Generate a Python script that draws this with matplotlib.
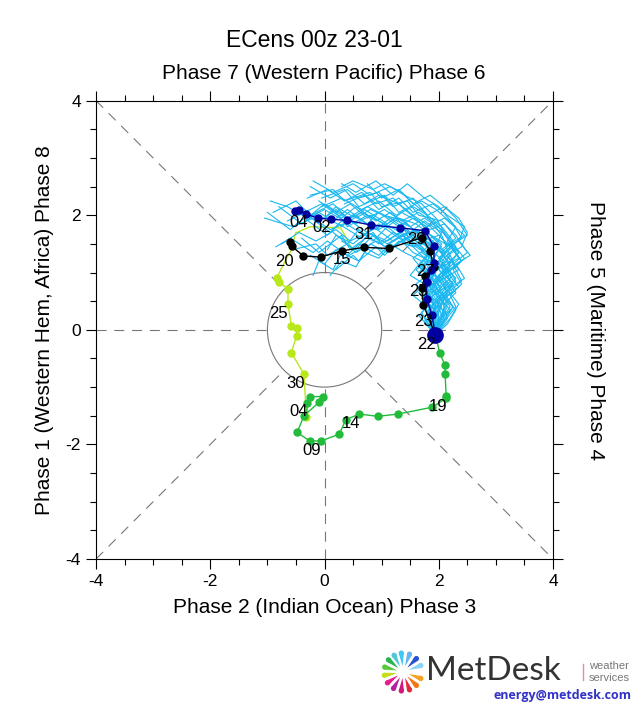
import matplotlib
matplotlib.use('Agg')
import matplotlib.pyplot as plt
from matplotlib.ticker import MultipleLocator
from matplotlib.patches import Circle, Polygon
import numpy as np

plt.rcParams['font.family'] = ['Liberation Sans', 'DejaVu Sans']
plt.rcParams['axes.unicode_minus'] = False

# ---- data ----
start = (1.94, -0.09)   # 22-01, large dot

# observed December (yellow-green)
dec_x = [0.49, 0.40, 0.28, -0.25, -0.51, -0.57, -0.70, -0.84, -0.80, -0.64, -0.64, -0.58, -0.48, -0.49, -0.58, -0.36, -0.316]
dec_y = [1.38, 1.57, 1.78, 1.80, 1.69, 1.42, 1.18, 0.90, 0.84, 0.71, 0.45, 0.07, 0.03, -0.105, -0.40, -0.775, -1.525]
dec_dot = [7, 8, 9, 10, 11, 12, 13, 14, 15, 16]

# observed January (green)
jan_x = [-0.316, -0.30, -0.26, -0.03, -0.09, -0.36, -0.48, -0.26, -0.06, 0.26, 0.37, 0.61, 0.93, 1.29, 1.89, 2.13, 2.13, 2.11, 2.11, 2.02, 1.94]
jan_y = [-1.525, -1.28, -1.165, -1.165, -1.26, -1.50, -1.79, -1.94, -1.94, -1.82, -1.57, -1.47, -1.51, -1.47, -1.35, -1.19, -1.15, -0.77, -0.62, -0.41, -0.09]

# second mean track (black)
blk_x = [1.94, 1.73, 1.70, 1.76, 1.91, 1.85, 1.71, 1.12, 0.69, 0.31, -0.07, -0.37, -0.57, -0.60]
blk_y = [-0.09, 0.44, 0.73, 0.94, 1.10, 1.37, 1.61, 1.42, 1.44, 1.38, 1.27, 1.29, 1.455, 1.54]

# ensemble mean forecast (dark blue)
mean_x = [1.94, 1.88, 1.79, 1.79, 1.86, 1.92, 1.91, 1.76, 1.33, 0.81, 0.40, 0.105, -0.12, -0.32, -0.45, -0.52]
mean_y = [-0.09, 0.26, 0.54, 0.84, 1.05, 1.165, 1.455, 1.73, 1.78, 1.83, 1.91, 1.93, 1.95, 2.02, 2.10, 2.07]

# ensemble members (days 1-15)
ens_x = [
    [2.15, 2.05, 2.30, 2.10, 2.40, 2.20, 2.45, 2.10, 1.80, 1.35, 1.10, 0.70, 0.45, 0.00, -0.30],
    [1.70, 1.85, 1.60, 1.80, 1.55, 1.75, 1.45, 1.20, 0.85, 0.65, 0.25, 0.05, -0.35, -0.60, -1.00],
    [2.00, 2.20, 1.95, 2.25, 2.05, 2.35, 2.15, 2.30, 1.95, 1.70, 1.30, 1.05, 0.60, 0.35, -0.05],
    [1.85, 1.70, 1.95, 1.75, 2.00, 1.70, 1.90, 1.55, 1.40, 1.00, 0.85, 0.45, 0.30, -0.10, -0.40],
    [2.05, 2.25, 2.10, 2.40, 2.25, 2.50, 2.30, 2.05, 1.65, 1.45, 1.00, 0.80, 0.35, 0.15, -0.25],
    [1.90, 2.05, 1.80, 2.00, 1.85, 2.10, 1.90, 1.60, 1.30, 0.95, 0.70, 0.30, 0.10, -0.30, -0.55],
    [1.75, 1.95, 1.70, 1.90, 1.65, 1.85, 1.55, 1.35, 1.10, 0.80, 0.60, 0.30, 0.15, -0.10, -0.20],
    [2.10, 2.00, 2.25, 2.05, 2.30, 2.15, 2.40, 2.25, 2.00, 1.75, 1.45, 1.20, 0.90, 0.55, 0.30],
    [1.95, 1.80, 2.05, 1.85, 2.10, 1.90, 1.75, 1.50, 1.15, 0.90, 0.50, 0.30, -0.10, -0.40, -0.80],
    [2.20, 2.35, 2.15, 2.45, 2.30, 2.55, 2.35, 2.45, 2.15, 1.90, 1.55, 1.30, 0.95, 0.70, 0.35],
    [1.80, 1.90, 1.75, 1.95, 1.70, 1.90, 1.60, 1.40, 1.15, 0.90, 0.55, 0.40, 0.05, -0.15, -0.55],
    [2.00, 2.10, 1.90, 2.20, 2.00, 2.25, 2.05, 1.75, 1.50, 1.15, 0.90, 0.55, 0.30, -0.05, -0.35],
    [1.85, 2.00, 1.85, 2.05, 1.90, 2.15, 1.95, 2.05, 1.75, 1.50, 1.25, 0.95, 0.75, 0.40, 0.20],
    [2.05, 2.20, 2.05, 2.30, 2.10, 2.35, 2.10, 1.85, 1.55, 1.30, 0.95, 0.70, 0.40, 0.10, -0.25],
    [1.75, 1.85, 1.65, 1.85, 1.60, 1.80, 1.55, 1.30, 1.05, 0.85, 0.60, 0.35, 0.20, 0.00, -0.25],
    [2.10, 2.30, 2.20, 2.40, 2.25, 2.45, 2.25, 2.50, 2.30, 2.10, 1.80, 1.55, 1.20, 0.95, 0.60],
    [1.90, 2.00, 1.80, 1.95, 1.75, 1.90, 1.65, 1.40, 1.05, 0.75, 0.40, 0.15, -0.25, -0.50, -0.90],
    [1.95, 2.10, 1.95, 2.15, 2.00, 2.20, 2.05, 1.85, 1.60, 1.40, 1.10, 0.85, 0.60, 0.40, 0.15],
    [2.05, 1.95, 2.20, 2.00, 2.25, 2.05, 2.30, 2.10, 1.85, 1.55, 1.30, 0.95, 0.75, 0.40, 0.15],
    [1.80, 1.95, 1.75, 1.90, 1.70, 1.85, 1.60, 1.35, 1.15, 0.80, 0.55, 0.20, 0.00, -0.35, -0.65],
    [2.00, 2.15, 1.95, 2.20, 2.00, 2.20, 2.00, 1.80, 1.55, 1.30, 1.05, 0.90, 0.60, 0.50, 0.20],
    [1.95, 2.05, 2.15, 2.00, 2.20, 2.05, 2.25, 2.05, 1.80, 1.55, 1.25, 0.95, 0.65, 0.30, -0.05],
    [1.85, 1.75, 1.95, 1.80, 2.00, 1.80, 1.60, 1.35, 1.10, 0.75, 0.45, 0.20, -0.15, -0.45, -0.75],
    [2.10, 2.25, 2.10, 2.30, 2.15, 2.35, 2.15, 1.95, 1.65, 1.35, 1.05, 0.75, 0.45, 0.20, -0.10],
    [1.90, 2.00, 1.85, 2.00, 1.80, 1.95, 1.75, 1.55, 1.35, 1.10, 0.95, 0.70, 0.55, 0.30, 0.10],
    [2.00, 2.15, 2.00, 2.25, 2.05, 2.30, 2.10, 1.95, 1.70, 1.40, 1.15, 0.80, 0.50, 0.15, -0.20],
    [1.95, 1.85, 2.05, 1.90, 2.10, 1.90, 2.05, 1.80, 1.60, 1.30, 1.10, 0.80, 0.55, 0.20, 0.00],
    [2.05, 2.10, 2.30, 2.10, 2.35, 2.15, 2.40, 2.50, 2.35, 2.10, 1.85, 1.55, 1.30, 1.00, 0.75],
    [1.85, 1.95, 1.80, 1.90, 1.75, 1.85, 1.60, 1.35, 1.05, 0.75, 0.45, 0.10, -0.20, -0.55, -1.05],
    [1.95, 2.05, 1.95, 2.10, 2.00, 2.15, 2.05, 1.90, 1.75, 1.50, 1.35, 1.05, 0.85, 0.50, 0.30],
    [1.65, 1.80, 1.55, 1.75, 1.50, 1.70, 1.40, 1.15, 0.95, 0.60, 0.40, 0.05, -0.20, -0.60, -0.85],
    [2.15, 2.30, 2.10, 2.35, 2.15, 2.40, 2.20, 2.00, 1.70, 1.40, 1.10, 0.75, 0.50, 0.20, 0.05],
    [1.90, 2.05, 1.85, 2.05, 1.85, 2.05, 1.85, 1.65, 1.40, 1.20, 0.90, 0.65, 0.35, 0.05, -0.30],
    [2.00, 1.90, 2.10, 1.95, 2.15, 2.00, 2.20, 1.95, 1.70, 1.45, 1.20, 0.95, 0.75, 0.55, 0.30],
    [1.80, 1.90, 1.70, 1.85, 1.65, 1.80, 1.50, 1.25, 0.95, 0.65, 0.35, 0.00, -0.30, -0.65, -0.95],
]
ens_y = [
    [0.20, 0.55, 0.70, 1.00, 1.20, 1.50, 1.65, 1.95, 1.80, 2.05, 1.85, 2.10, 1.90, 2.20, 1.95],
    [0.30, 0.50, 0.80, 0.95, 1.25, 1.40, 1.70, 1.55, 1.80, 1.60, 1.85, 1.65, 1.95, 1.75, 2.05],
    [0.15, 0.35, 0.65, 0.80, 1.10, 1.25, 1.55, 1.80, 2.10, 2.25, 2.05, 2.35, 2.15, 2.45, 2.30],
    [0.35, 0.55, 0.70, 1.00, 1.15, 1.35, 1.55, 1.45, 1.75, 1.50, 1.70, 1.40, 1.65, 1.35, 1.60],
    [0.10, 0.40, 0.60, 0.85, 1.15, 1.35, 1.65, 1.90, 2.00, 2.25, 2.15, 2.40, 2.25, 2.45, 2.35],
    [0.20, 0.45, 0.60, 0.90, 1.05, 1.30, 1.55, 1.75, 1.60, 1.85, 1.65, 1.90, 1.70, 2.00, 1.80],
    [0.15, 0.35, 0.55, 0.75, 1.00, 1.20, 1.35, 1.55, 1.35, 1.50, 1.20, 1.35, 1.05, 1.20, 0.95],
    [0.25, 0.50, 0.65, 0.95, 1.10, 1.40, 1.60, 1.85, 2.15, 2.30, 2.55, 2.35, 2.60, 2.40, 2.55],
    [0.30, 0.50, 0.75, 0.90, 1.20, 1.35, 1.60, 1.80, 1.95, 1.75, 2.00, 1.80, 2.05, 1.85, 2.15],
    [0.20, 0.45, 0.70, 0.90, 1.15, 1.30, 1.55, 1.80, 2.00, 2.20, 2.05, 2.30, 2.10, 2.35, 2.20],
    [0.25, 0.45, 0.70, 0.85, 1.10, 1.25, 1.45, 1.60, 1.40, 1.55, 1.35, 1.50, 1.30, 1.50, 1.40],
    [0.30, 0.55, 0.80, 0.95, 1.25, 1.45, 1.75, 1.95, 1.80, 2.05, 1.90, 2.15, 1.95, 2.20, 2.05],
    [0.15, 0.35, 0.60, 0.80, 1.00, 1.20, 1.45, 1.70, 1.90, 1.70, 1.95, 1.75, 2.00, 1.80, 2.05],
    [0.20, 0.40, 0.65, 0.90, 1.10, 1.35, 1.55, 1.80, 2.00, 2.20, 2.35, 2.20, 2.45, 2.30, 2.50],
    [0.20, 0.40, 0.65, 0.80, 1.05, 1.20, 1.45, 1.60, 1.45, 1.65, 1.40, 1.25, 1.40, 1.15, 1.30],
    [0.15, 0.40, 0.60, 0.80, 1.05, 1.25, 1.50, 1.65, 1.95, 2.15, 2.00, 2.30, 2.15, 2.40, 2.30],
    [0.35, 0.55, 0.80, 1.00, 1.20, 1.45, 1.65, 1.90, 2.00, 2.15, 1.95, 2.20, 2.00, 2.25, 2.05],
    [0.10, 0.30, 0.50, 0.70, 0.95, 1.15, 1.35, 1.55, 1.75, 1.55, 1.80, 1.55, 1.75, 1.50, 1.70],
    [0.25, 0.55, 0.70, 0.95, 1.15, 1.40, 1.60, 1.85, 1.75, 1.95, 1.80, 2.05, 1.85, 2.10, 1.90],
    [0.30, 0.50, 0.70, 0.95, 1.15, 1.40, 1.60, 1.80, 1.95, 2.10, 1.95, 2.15, 1.95, 2.05, 1.90],
    [0.15, 0.40, 0.60, 0.85, 1.05, 1.30, 1.45, 1.60, 1.45, 1.55, 1.30, 1.45, 1.20, 1.30, 1.05],
    [0.20, 0.45, 0.65, 0.90, 1.10, 1.35, 1.55, 1.80, 2.00, 2.15, 2.00, 2.25, 2.10, 2.30, 2.15],
    [0.20, 0.45, 0.65, 0.90, 1.10, 1.30, 1.50, 1.65, 1.50, 1.70, 1.55, 1.75, 1.55, 1.70, 1.50],
    [0.20, 0.40, 0.65, 0.85, 1.10, 1.35, 1.60, 1.85, 2.05, 1.90, 2.10, 1.95, 2.20, 2.05, 2.25],
    [0.25, 0.45, 0.70, 0.85, 1.10, 1.30, 1.50, 1.65, 1.55, 1.40, 1.25, 1.35, 1.10, 1.20, 0.95],
    [0.20, 0.45, 0.70, 0.95, 1.20, 1.45, 1.70, 1.95, 2.20, 2.35, 2.50, 2.35, 2.55, 2.40, 2.60],
    [0.15, 0.40, 0.60, 0.85, 1.05, 1.25, 1.50, 1.70, 1.85, 1.95, 1.80, 2.00, 1.85, 2.10, 1.95],
    [0.20, 0.45, 0.65, 0.90, 1.05, 1.30, 1.45, 1.70, 1.95, 2.15, 2.35, 2.20, 2.45, 2.30, 2.55],
    [0.20, 0.40, 0.65, 0.90, 1.10, 1.30, 1.55, 1.70, 1.85, 1.70, 1.90, 1.75, 1.95, 1.80, 1.95],
    [0.25, 0.50, 0.75, 0.95, 1.20, 1.40, 1.65, 1.85, 2.05, 2.25, 2.40, 2.55, 2.45, 2.60, 2.50],
    [0.25, 0.40, 0.60, 0.80, 0.95, 1.20, 1.35, 1.50, 1.30, 1.50, 1.30, 1.55, 1.35, 1.60, 1.45],
    [0.10, 0.35, 0.55, 0.75, 1.00, 1.20, 1.45, 1.65, 1.55, 1.75, 1.55, 1.70, 1.50, 1.65, 1.40],
    [0.30, 0.55, 0.75, 1.00, 1.20, 1.45, 1.65, 1.90, 2.10, 2.30, 2.20, 2.40, 2.25, 2.45, 2.30],
    [0.20, 0.45, 0.60, 0.85, 1.00, 1.25, 1.45, 1.60, 1.75, 1.60, 1.70, 1.50, 1.65, 1.40, 1.55],
    [0.20, 0.45, 0.65, 0.90, 1.10, 1.35, 1.55, 1.75, 1.90, 2.05, 1.90, 2.10, 1.95, 2.15, 2.25],
]

# date labels (text, x, y)
lab_txt = ['04', '02', '31', '29', '27', '25', '23', '22', '20', '15', '25', '30', '04', '09', '14', '19']
lab_x = [-0.46, -0.05, 0.69, 1.61, 1.77, 1.65, 1.74, 1.79, -0.71, 0.31, -0.80, -0.51, -0.45, -0.22, 0.47, 1.98]
lab_y = [1.87, 1.78, 1.67, 1.57, 1.02, 0.67, 0.145, -0.26, 1.19, 1.22, 0.29, -0.93, -1.43, -2.10, -1.63, -1.33]

c_ens = '#1ab8f0'
c_mean = '#0000a0'
c_dec = '#b8e81a'
c_jan = '#22bb3a'

fig = plt.figure(figsize=(6.32, 7.04), dpi=100)
ax = fig.add_axes([0.152, 0.206, 0.723, 0.651])

# phase diagram frame
grey = '#777777'
dash = dict(color=grey, lw=0.8, dashes=(9, 7))
r = 1.0
d = r / np.sqrt(2)
ax.plot([-4, -r], [0, 0], **dash)
ax.plot([r, 4], [0, 0], **dash)
ax.plot([0, 0], [-4, -r], **dash)
ax.plot([0, 0], [r, 4], **dash)
ax.plot([-4, -d], [-4, -d], **dash)
ax.plot([d, 4], [d, 4], **dash)
ax.plot([-4, -d], [4, d], **dash)
ax.plot([d, 4], [-d, -4], **dash)
ax.add_patch(Circle((0, 0), r, fill=False, ec=grey, lw=0.8))

# observed tracks
ax.plot(dec_x, dec_y, color=c_dec, lw=1.0, zorder=3)
ax.plot([dec_x[i] for i in dec_dot], [dec_y[i] for i in dec_dot], 'o', color=c_dec, ms=5, zorder=3)
ax.plot(jan_x, jan_y, color=c_jan, lw=1.0, zorder=3)
ax.plot(jan_x[1:-1], jan_y[1:-1], 'o', color=c_jan, ms=5, zorder=3)

# ensemble members
for mx, my in zip(ens_x, ens_y):
    ax.plot([start[0]] + mx, [start[1]] + my, color=c_ens, lw=0.8, zorder=4)

ax.plot(blk_x, blk_y, '-o', color='black', lw=1.0, ms=5, zorder=5)
ax.plot(mean_x, mean_y, '-o', color=c_mean, lw=1.0, ms=5, zorder=6)
ax.plot([start[0]], [start[1]], 'o', color=c_mean, ms=11, zorder=7)

for t, x, y in zip(lab_txt, lab_x, lab_y):
    ax.text(x, y, t, fontsize=12, ha='center', va='center', zorder=8)

ax.set_xlim(-4, 4)
ax.set_ylim(-4, 4)
ax.set_xticks([-4, -2, 0, 2, 4])
ax.set_yticks([-4, -2, 0, 2, 4])
ax.xaxis.set_minor_locator(MultipleLocator(0.5))
ax.yaxis.set_minor_locator(MultipleLocator(0.5))
ax.tick_params(which='both', direction='out', top=True, right=True, width=0.8)
ax.tick_params(which='major', length=7, labelsize=12.5, pad=4)
ax.tick_params(which='minor', length=4)
for s in ax.spines.values():
    s.set_linewidth(0.8)

ax.set_xlabel('Phase 2 (Indian Ocean) Phase 3', fontsize=15, labelpad=6)
ax.set_ylabel('Phase 1 (Western Hem, Africa) Phase 8', fontsize=15, labelpad=8)
fig.text(0.942, 0.531, 'Phase 5 (Maritime) Phase 4', fontsize=15, rotation=-90, ha='center', va='center')
fig.text(0.498, 0.943, 'ECens 00z 23-01', fontsize=16.5, ha='center', va='center')
fig.text(0.513, 0.895, 'Phase 7 (Western Pacific) Phase 6', fontsize=15, ha='center', va='center')

# MetDesk logo
lg = fig.add_axes([0, 0, 1, 1], zorder=-1)
lg.set_xlim(0, 632)
lg.set_ylim(704, 0)
lg.axis('off')
ray_ang = [95, 70, 45, 20, -20, -45, -70, -95, -120, -145, -170, 165, 140, 118]
ray_col = ['#3cc8f0', '#64b4f0', '#2850d2', '#8cd2f5', '#f5a01e', '#f07814', '#e6283c',
           '#d2147d', '#b41ea0', '#e61e8c', '#c8dc1e', '#5ac83c', '#28b450', '#50c8dc']
cx, cy = 403, 672
for a, col in zip(ray_ang, ray_col):
    t = np.deg2rad(a)
    ux, uy = np.cos(t), -np.sin(t)
    px, py = -uy, ux
    r0, r1, w = 6, 19, 2.6
    poly = [(cx + ux * r0, cy + uy * r0),
            (cx + ux * r1 + px * w, cy + uy * r1 + py * w),
            (cx + ux * r1 - px * w, cy + uy * r1 - py * w)]
    lg.add_patch(Polygon(poly, closed=True, color=col, lw=0))
    lg.add_patch(Circle((cx + ux * r1, cy + uy * r1), w, color=col, lw=0))
lg.text(426, 671, 'MetDesk', fontsize=24, color='#333333', family=['Lato', 'DejaVu Sans'],
        ha='left', va='center')
lg.plot([583, 583], [664, 680], color='#e68cb4', lw=1.0)
lg.text(589, 666, 'weather', fontsize=8, color='#777777', ha='left', va='center')
lg.text(589, 678, 'services', fontsize=8, color='#777777', ha='left', va='center')
lg.text(631, 696, 'energy@metdesk.com', fontsize=9, color='#3232c8', fontweight='bold',
        ha='right', va='center', family=['Open Sans', 'DejaVu Sans'])

fig.savefig('out.png', dpi=100)
